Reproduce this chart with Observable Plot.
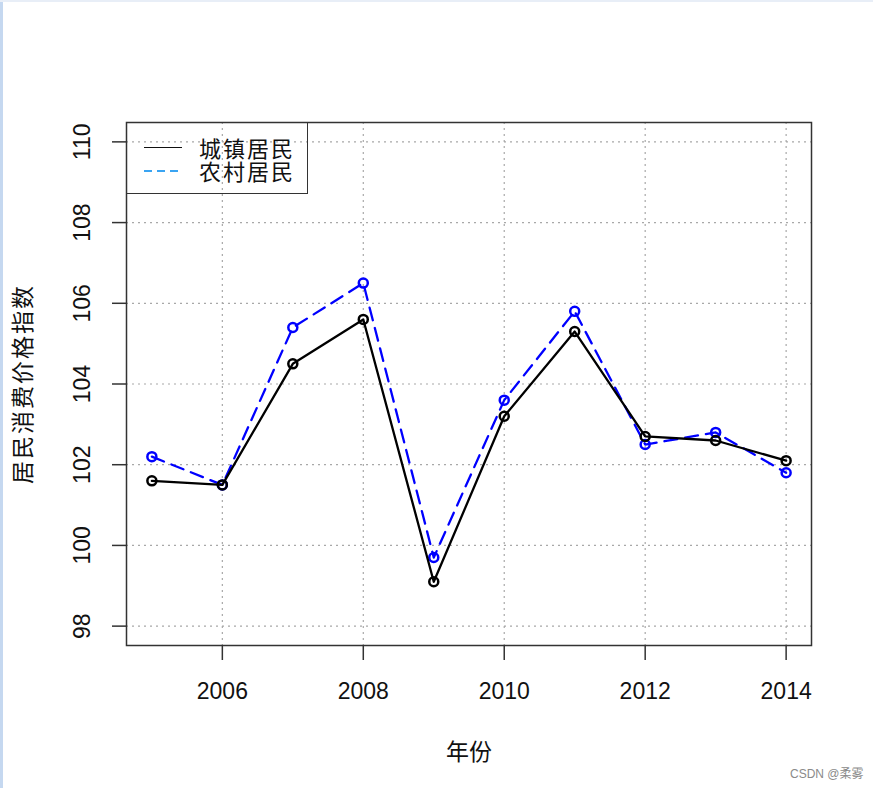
<!DOCTYPE html>
<html>
<head>
<meta charset="utf-8">
<script src="https://cdn.jsdelivr.net/npm/d3@7"></script>
<script src="https://cdn.jsdelivr.net/npm/@observablehq/plot@0.6"></script>
<style>
  html, body { margin: 0; padding: 0; background: #fff; }
  #wrap { position: relative; width: 873px; height: 788px; overflow: hidden;
          font-family: "Liberation Sans", Arial, "Noto Sans CJK SC", sans-serif; }
  #edgeL { position: absolute; left: 0; top: 0; width: 3px; height: 788px; background: #c5d8f0; }
  #edgeT { position: absolute; left: 0; top: 0; width: 873px; height: 2px; background: #e8eef7; }
  #legend { position: absolute; left: 126px; top: 122px; width: 182px; height: 72px;
            border: 1.3px solid #333; box-sizing: border-box; }
  .lg-line { position: absolute; left: 17px; width: 38px; }
  .lg-text { position: absolute; left: 72px; font-size: 22px; color: #111; white-space: nowrap;
             font-family: "Noto Sans CJK SC", sans-serif; line-height: 20px; letter-spacing: 2px; }
  #wm { position: absolute; left: 790px; top: 764px; font-size: 12px; color: #8a8a8a;
        font-family: "Liberation Sans", "Noto Sans CJK SC", sans-serif; }
</style>
</head>
<body>
<div id="wrap">
  <div id="chart"></div>
  <div id="legend"></div>
  <div id="wm">CSDN @柔雾</div>
  <div id="edgeL"></div>
  <div id="edgeT"></div>
</div>
<script>
const years = [2005, 2006, 2007, 2008, 2009, 2010, 2011, 2012, 2013, 2014];
const urban = [101.6, 101.5, 104.5, 105.6, 99.1, 103.2, 105.3, 102.7, 102.6, 102.1];
const rural = [102.2, 101.5, 105.4, 106.5, 99.7, 103.6, 105.8, 102.5, 102.8, 101.8];
const seriesNames = ["城镇居民", "农村居民"];
const xTicks = [2006, 2008, 2010, 2012, 2014];
const yTicks = [98, 100, 102, 104, 106, 108, 110];
const xLabel = "年份";
const yLabel = "居民消费价格指数";

const urbanData = years.map((y, i) => ({year: y, value: urban[i]}));
const ruralData = years.map((y, i) => ({year: y, value: rural[i]}));

const numFont = "Liberation Sans, Arial, sans-serif";
const cjkFont = "Noto Sans CJK SC, sans-serif";

const chart = Plot.plot({
  width: 873,
  height: 788,
  marginLeft: 126,
  marginRight: 62,
  marginTop: 122,
  marginBottom: 143,
  style: {background: "transparent", overflow: "visible"},
  x: {domain: [2004.64, 2014.36]},
  y: {domain: [97.52, 110.48]},
  marks: [
    Plot.gridX(xTicks, {stroke: "#a8a8a8", strokeOpacity: 1, strokeWidth: 1.2, strokeDasharray: "2,4"}),
    Plot.gridY(yTicks, {stroke: "#a8a8a8", strokeOpacity: 1, strokeWidth: 1.2, strokeDasharray: "2,4"}),
    Plot.axisX(xTicks, {tickSize: 15, stroke: "#333", strokeWidth: 1.5, tickFormat: () => "", label: null}),
    Plot.axisY(yTicks, {tickSize: 14, stroke: "#333", strokeWidth: 1.5, tickFormat: () => "", label: null}),
    Plot.text(xTicks, {x: d => d, frameAnchor: "bottom", dy: 46, text: d => String(d),
      fontSize: 23, fontFamily: numFont, fill: "#111", lineAnchor: "middle", textAnchor: "middle"}),
    Plot.text(yTicks, {y: d => d, frameAnchor: "left", dx: -44, text: d => String(d), rotate: -90,
      fontSize: 23, fontFamily: numFont, fill: "#111", lineAnchor: "middle", textAnchor: "middle"}),
    Plot.text([xLabel], {frameAnchor: "bottom", dy: 107, text: d => d,
      fontSize: 23, fontFamily: cjkFont, fill: "#111", lineAnchor: "middle", textAnchor: "middle"}),
    Plot.text([yLabel], {frameAnchor: "left", dx: -103, text: d => d, rotate: -90,
      fontSize: 23, fontFamily: cjkFont, fill: "#111", lineAnchor: "middle", textAnchor: "middle"}),
    Plot.line(ruralData, {x: "year", y: "value", stroke: "#0000ff", strokeWidth: 2.3, strokeDasharray: "13,8"}),
    Plot.dot(ruralData, {x: "year", y: "value", r: 4.5, stroke: "#0000ff", strokeWidth: 2.5, fill: "none"}),
    Plot.line(urbanData, {x: "year", y: "value", stroke: "#000", strokeWidth: 2.3}),
    Plot.dot(urbanData, {x: "year", y: "value", r: 4.5, stroke: "#000", strokeWidth: 2.5, fill: "none"}),
    Plot.frame({stroke: "#333", strokeWidth: 1.5})
  ]
});
document.getElementById("chart").appendChild(chart);

// widen the spacing of the rotated y-axis title like the reference
d3.select(chart).selectAll("text").filter(function () { return this.textContent === yLabel; })
  .style("letter-spacing", "2px");

// Legend
const legend = document.getElementById("legend");
const styles = [
  {color: "#111", dash: "solid", width: 1.3, center: 25},
  {color: "#3aa4f2", dash: "dashed", width: 1.6, center: 48}
];
seriesNames.forEach((name, i) => {
  const s = styles[i];
  const line = document.createElement("div");
  line.className = "lg-line";
  line.style.top = (s.center - 1) + "px";
  if (s.dash === "solid") {
    line.style.borderTop = s.width + "px solid " + s.color;
  } else {
    line.style.height = s.width + "px";
    line.style.width = "35px";
    line.style.background = `repeating-linear-gradient(90deg, ${s.color} 0 8px, transparent 8px 13px)`;
  }
  legend.appendChild(line);
  const t = document.createElement("div");
  t.className = "lg-text";
  t.style.top = (s.center - 11) + "px";
  t.textContent = name;
  legend.appendChild(t);
});
</script>
</body>
</html>
